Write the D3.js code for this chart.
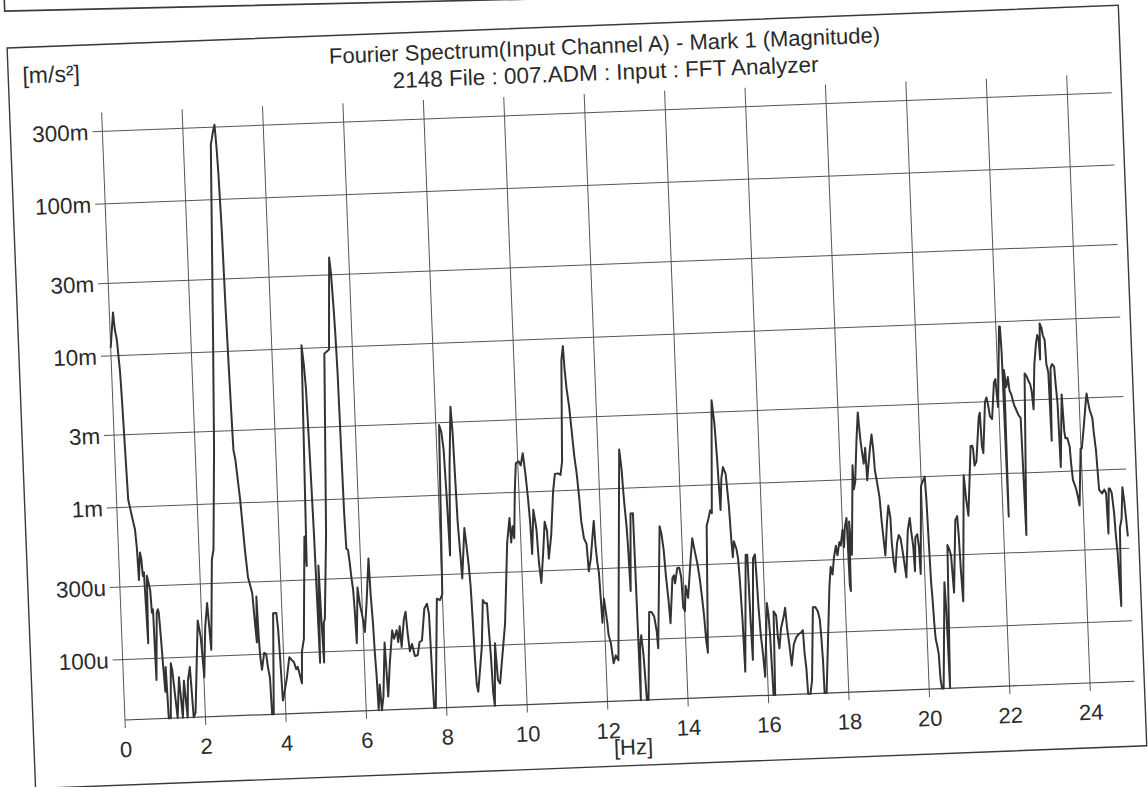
<!DOCTYPE html>
<html>
<head>
<meta charset="utf-8">
<script src="https://cdn.jsdelivr.net/npm/d3@7"></script>
<style>
body { margin: 0; background: #fff; }
svg text { font-family: "Liberation Sans", Arial, sans-serif; fill: #2a2a2a; }
</style>
</head>
<body>
<script>
// spectrum, [Hz] and [m/s2]
var freqHz = [
 0.00,0.09,0.12,0.16,0.18,0.21,0.23,0.25,0.27,0.29,0.37,0.43,0.46,0.48,0.53,0.56,0.58,0.61,0.63,0.65,
 0.68,0.71,0.75,0.77,0.80,0.82,0.89,0.92,0.94,0.97,1.00,1.03,1.06,1.09,1.14,1.19,1.22,1.31,1.38,1.44,
 1.50,1.56,1.60,1.66,1.71,1.76,1.81,1.90,1.96,2.01,2.08,2.15,2.21,2.31,2.36,2.47,2.55,2.68,2.75,2.79,
 2.82,2.84,2.87,2.89,2.91,2.93,2.95,2.99,3.07,3.14,3.19,3.28,3.32,3.35,3.38,3.40,3.42,3.45,3.48,3.52,
 3.57,3.60,3.64,3.66,3.70,3.78,3.86,3.89,3.91,3.94,3.96,4.06,4.14,4.20,4.25,4.30,4.34,4.43,4.46,4.52,
 4.63,4.66,4.74,4.78,4.81,4.84,4.87,4.90,4.95,4.97,5.00,5.03,5.06,5.17,5.30,5.42,5.51,5.54,5.57,5.59,
 5.61,5.62,5.63,5.64,5.66,5.70,5.73,5.76,5.79,5.81,5.83,5.90,5.94,6.01,6.04,6.11,6.20,6.22,6.25,6.27,
 6.29,6.31,6.36,6.39,6.44,6.52,6.56,6.63,6.72,6.76,6.83,6.86,6.91,6.94,7.02,7.07,7.10,7.14,7.20,7.26,
 7.33,7.39,7.45,7.54,7.61,7.65,7.67,7.69,7.73,7.86,7.94,8.00,8.08,8.13,8.17,8.20,8.23,8.30,8.38,8.41,
 8.43,8.45,8.49,8.51,8.61,8.64,8.68,8.71,8.73,8.75,8.77,8.80,8.93,9.00,9.05,9.10,9.12,9.15,9.17,9.20,
 9.26,9.30,9.35,9.53,9.57,9.66,9.74,9.76,9.81,9.84,9.90,9.95,10.02,10.07,10.13,10.18,10.22,10.25,10.27,10.34,
 10.38,10.40,10.43,10.47,10.55,10.61,10.66,10.68,10.76,10.85,10.91,10.99,11.05,11.10,11.18,11.23,11.25,11.28,11.33,11.37,
 11.41,11.45,11.49,11.52,11.57,11.63,11.66,11.72,11.78,11.83,11.85,11.88,11.91,11.95,12.01,12.04,12.07,12.09,12.14,12.19,
 12.25,12.31,12.53,12.57,12.59,12.61,12.64,12.66,12.68,12.75,12.81,12.83,12.86,12.90,12.94,12.98,13.02,13.12,13.18,13.24,
 13.29,13.31,13.46,13.50,13.54,13.57,13.61,13.64,13.73,13.77,13.79,13.86,13.91,13.95,13.97,14.01,14.05,14.10,14.20,14.26,
 14.31,14.36,14.41,14.45,14.48,14.51,14.54,14.63,14.68,14.73,14.77,14.87,14.92,14.95,14.97,14.99,15.04,15.09,15.15,15.17,
 15.20,15.23,15.25,15.29,15.35,15.38,15.40,15.43,15.45,15.57,15.61,15.63,15.65,15.75,15.80,15.82,15.84,15.87,15.91,15.94,
 16.05,16.08,16.10,16.13,16.17,16.21,16.27,16.29,16.32,16.38,16.46,16.50,16.53,16.57,16.61,16.68,16.75,16.81,16.88,16.92,
 16.94,16.97,16.99,17.05,17.10,17.19,17.25,17.31,17.35,17.37,17.39,17.40,17.45,17.62,17.67,17.71,17.76,17.82,17.85,17.91,
 17.94,18.00,18.02,18.06,18.11,18.13,18.15,18.17,18.19,18.21,18.31,18.32,18.36,18.43,18.49,18.51,18.53,18.57,18.59,18.64,
 18.66,18.71,18.76,18.81,18.84,18.86,18.89,18.95,18.98,19.01,19.04,19.11,19.16,19.20,19.21,19.24,19.27,19.34,19.39,19.43,
 19.46,19.50,19.54,19.62,19.68,19.70,19.74,19.76,19.80,19.85,19.88,19.90,19.99,20.05,20.09,20.11,20.13,20.15,20.17,20.19,
 20.21,20.24,20.27,20.29,20.32,20.36,20.48,20.50,20.52,20.59,20.63,20.67,20.71,20.81,20.86,20.88,20.90,20.93,21.06,21.10,
 21.14,21.26,21.30,21.32,21.34,21.39,21.49,21.52,21.54,21.57,21.66,21.70,21.73,21.77,21.82,21.90,21.94,21.96,21.98,22.08,
 22.10,22.12,22.14,22.16,22.18,22.20,22.23,22.25,22.28,22.32,22.38,22.43,22.48,22.53,22.56,22.67,22.72,22.76,22.80,22.83,
 22.86,22.92,22.98,23.02,23.05,23.07,23.09,23.13,23.16,23.20,23.22,23.26,23.28,23.32,23.36,23.41,23.43,23.46,23.48,23.57,
 23.60,23.62,23.67,23.72,23.74,23.77,23.81,23.84,23.88,23.91,23.99,24.02,24.09,24.16,24.19,24.22,24.25,24.31,24.33,24.37,
 24.39,24.41,24.48,24.54,24.58,24.60,24.65,24.68,24.72,24.76,24.78,24.81,24.83,24.85,24.89,24.94,24.99,25.02,25.05,25.08
];
var magnitude = [
 0.0113,0.0192,0.0148,0.0127,0.0104,0.0077,0.0051,0.0031,0.00186,0.00112,0.00086,0.00071,0.00053,0.00033,0.0005,0.00045,0.00035,0.00037,0.00022,0.000126,
 0.00035,0.00032,0.00028,0.0002,0.00021,0.000072,0.0002,0.00021,0.0002,0.000138,0.000087,0.00006,0.000087,0.00004,0.00004,0.000092,0.000083,0.00004,0.000074,0.00004,
 0.00007,0.00004,0.00007,0.000086,0.00004,0.000043,0.000071,0.000173,0.000134,0.000073,0.000155,0.000224,0.00011,0.00043,0.0005,0.0023,0.012,0.23,0.285,0.311,
 0.216,0.15,0.063,0.02,0.009,0.0043,0.00224,0.00192,0.00105,0.00049,0.000325,0.000254,0.00016,0.00012,0.00024,0.00013,0.000096,0.000079,0.000088,0.000102,
 0.0001,0.000082,0.00007,0.00004,0.00004,0.000185,0.000185,0.000142,0.000096,0.000049,0.000051,0.000069,0.000094,0.00009,0.000087,0.000078,0.000081,0.000063,0.000102,0.000123,
 0.00058,0.00037,0.0105,0.0078,0.0054,0.002,0.0006,0.000085,0.00037,0.000174,0.000085,0.000155,0.000165,0.00059,0.0091,0.0097,0.039,0.031,0.019,0.0126,
 0.0068,0.0032,0.00155,0.0008,0.00047,0.00046,0.00038,0.0003,0.00025,0.000183,0.000112,0.00026,0.000204,0.000158,0.000132,0.000204,0.0004,0.00023,0.000151,0.000093,
 0.000069,0.00004,0.000059,0.00004,0.000049,0.000111,0.000049,0.000081,0.000133,0.000117,0.000133,0.000111,0.000141,0.000103,0.000156,0.000175,0.000128,0.000096,0.000107,0.000089,
 0.00009,0.00011,0.000112,0.000182,0.000195,0.000166,0.000074,0.00004,0.00004,0.000209,0.000205,0.000224,0.0029,0.0026,0.002,0.001,0.0004,0.0015,0.0038,0.0025,
 0.00126,0.00066,0.00038,0.00028,0.0006,0.00048,0.00035,0.00025,0.000151,0.000082,0.000056,0.00005,0.000098,0.0002,0.00019,0.00019,0.000131,0.000081,0.000049,0.00004,
 0.000103,0.000059,0.000056,0.000138,0.0002,0.00047,0.00068,0.00047,0.0006,0.0005,0.00104,0.00155,0.0016,0.0015,0.0018,0.0013,0.0009,0.00063,0.00039,0.00076,
 0.00063,0.00056,0.00034,0.00025,0.00041,0.00063,0.00055,0.00036,0.00051,0.001,0.00129,0.0013,0.00127,0.00155,0.0072,0.0089,0.0063,0.0047,0.0035,0.0024,
 0.00166,0.0013,0.0009,0.00062,0.00048,0.00044,0.00029,0.00035,0.00048,0.00062,0.00043,0.00033,0.00028,0.000132,0.00019,0.000159,0.000132,0.00011,0.000096,0.000071,
 0.00008,0.000074,0.0018,0.00134,0.00097,0.00076,0.00056,0.00039,0.00021,0.00068,0.00068,0.00004,0.000089,0.000107,0.000078,0.00004,0.00004,0.000151,0.000151,0.000141,
 0.000112,0.000087,0.00055,0.00049,0.00038,0.00026,0.000182,0.000126,0.00025,0.00026,0.00023,0.00029,0.00029,0.00025,0.000159,0.00015,0.00022,0.000183,0.00033,0.00045,
 0.00037,0.00031,0.00024,0.000178,0.000138,0.000095,0.000079,0.00054,0.0006,0.00068,0.00065,0.0036,0.0025,0.00155,0.001,0.00068,0.0011,0.0013,0.00117,0.00097,
 0.00072,0.00042,0.00033,0.00042,0.00037,0.00032,0.00024,0.000128,0.000058,0.00034,0.00034,0.000126,0.000069,0.00032,0.00034,0.00024,0.000152,0.0001,0.000073,0.000053,
 0.000162,0.000135,0.0001,0.00004,0.00004,0.000142,0.000133,0.000098,0.000081,0.00011,0.000132,0.000149,0.000109,0.000085,0.000062,0.000085,0.000095,0.000099,0.000102,0.000105,
 0.000074,0.000059,0.00004,0.00004,0.000049,0.000148,0.000148,0.000138,0.000122,0.000095,0.000066,0.00004,0.00004,0.0002,0.00027,0.00024,0.00031,0.00037,0.00032,0.00039,
 0.00037,0.00047,0.00036,0.00049,0.00056,0.0002,0.000185,0.00053,0.00041,0.00032,0.00124,0.00086,0.00096,0.00178,0.00275,0.0022,0.0018,0.0014,0.00126,0.0016,
 0.00098,0.00126,0.0016,0.00195,0.00154,0.00113,0.001,0.00075,0.00052,0.0004,0.00031,0.00051,0.00066,0.00055,0.00038,0.00028,0.00024,0.00037,0.00042,0.0004,
 0.00035,0.00028,0.00022,0.00045,0.00054,0.00045,0.00035,0.00024,0.0004,0.00042,0.00035,0.00023,0.00087,0.00095,0.001,0.00073,0.00037,0.0002,0.000155,0.000107,
 0.000085,0.000077,0.000068,0.000047,0.00004,0.00004,0.0002,0.000132,0.00004,0.00035,0.00033,0.0003,0.00017,0.00051,0.00054,0.0004,0.00024,0.000148,0.001,0.00069,
 0.00054,0.00155,0.00155,0.00147,0.00115,0.00122,0.0024,0.00255,0.00155,0.00138,0.003,0.0032,0.0029,0.0024,0.0023,0.004,0.0042,0.0033,0.00275,0.0093,
 0.0093,0.0063,0.00052,0.0048,0.0042,0.0037,0.004,0.0043,0.0035,0.0033,0.0028,0.0026,0.0024,0.0023,0.00039,0.0045,0.0043,0.004,0.0038,0.0034,
 0.0026,0.0051,0.007,0.008,0.0075,0.0055,0.0095,0.0089,0.0079,0.0074,0.0051,0.0045,0.0016,0.0048,0.0051,0.0049,0.0038,0.0028,0.00107,0.0032,
 0.00185,0.00165,0.00165,0.00145,0.00112,0.00087,0.00081,0.00076,0.00067,0.00059,0.0014,0.0014,0.00195,0.0028,0.0032,0.0028,0.0025,0.0022,0.0018,0.00134,
 0.001,0.00074,0.0007,0.00074,0.0007,0.00038,0.00075,0.00075,0.0007,0.00052,0.00038,0.00028,0.000182,0.000126,0.00041,0.00047,0.00076,0.00063,0.00048,0.00036
];

var yTickValues = [0.3, 0.1, 0.03, 0.01, 0.003, 0.001, 0.0003, 0.0001];
var yTickLabels = ["300m", "100m", "30m", "10m", "3m", "1m", "300u", "100u"];
var xTickValues = [0, 2, 4, 6, 8, 10, 12, 14, 16, 18, 20, 22, 24];

var titleLines = ["Fourier Spectrum(Input Channel A) - Mark 1 (Magnitude)",
                  "2148 File : 007.ADM : Input : FFT Analyzer"];

var svgWidth = 1148, svgHeight = 787;
var width = 1010, height = 608;
// the scanned sheet sits a little crooked
var tilt = -2.2;

var svg = d3.select("body").append("svg")
  .attr("width", svgWidth)
  .attr("height", svgHeight);

var chart = svg.append("g")
  .attr("transform", "translate(125,720) rotate(" + tilt + ")");

var x = d3.scaleLinear().domain([0, 25.1]).range([0, width]);
var y = d3.scaleLog().domain([4e-5, 0.4]).range([0, -height]).clamp(true);

// outer frame + bit of the box above it
chart.append("rect")
  .attr("x", -92).attr("y", -676)
  .attr("width", 1112).attr("height", 741)
  .attr("fill", "none").attr("stroke", "#3a3a3a").attr("stroke-width", 1.4);
chart.append("path")
  .attr("d", "M-93,-760L-93,-713L360,-706L600,-702")
  .attr("fill", "none").attr("stroke", "#3a3a3a").attr("stroke-width", 1.6);

// horizontal grid with ticks on the left
chart.append("g").selectAll("line")
  .data(yTickValues)
  .enter().append("line")
  .attr("x1", -10).attr("x2", width)
  .attr("y1", function(d) { return y(d); })
  .attr("y2", function(d) { return y(d); })
  .attr("stroke", "#555").attr("stroke-width", 1);

// vertical grid, ticks poke below the axis
chart.append("g").selectAll("line")
  .data(xTickValues)
  .enter().append("line")
  .attr("x1", function(d) { return x(d); })
  .attr("x2", function(d) { return x(d); })
  .attr("y1", -height).attr("y2", 8)
  .attr("stroke", "#555").attr("stroke-width", 1);

// bottom axis line
chart.append("line")
  .attr("x1", 0).attr("x2", width)
  .attr("y1", 0).attr("y2", 0)
  .attr("stroke", "#444").attr("stroke-width", 1.2);

chart.append("g").selectAll("text")
  .data(yTickValues)
  .enter().append("text")
  .attr("x", -14)
  .attr("y", function(d) { return y(d); })
  .attr("dy", "0.36em")
  .attr("text-anchor", "end")
  .attr("font-size", "22.5px")
  .text(function(d, i) { return yTickLabels[i]; });

chart.append("g").selectAll("text")
  .data(xTickValues)
  .enter().append("text")
  .attr("x", function(d) { return x(d); })
  .attr("y", 37)
  .attr("text-anchor", "middle")
  .attr("font-size", "22px")
  .text(function(d) { return d; });

chart.append("text")
  .attr("x", 507).attr("y", 54)
  .attr("text-anchor", "middle")
  .attr("font-size", "22px")
  .text("[Hz]");

chart.append("text")
  .attr("x", -49).attr("y", -640)
  .attr("text-anchor", "middle")
  .attr("font-size", "23px")
  .text("[m/s²]");

chart.append("g").selectAll("text")
  .data(titleLines)
  .enter().append("text")
  .attr("x", width / 2)
  .attr("y", function(d, i) { return -648 + i * 27; })
  .attr("text-anchor", "middle")
  .attr("font-size", function(d, i) { return i ? "22.5px" : "22px"; })
  .text(function(d) { return d; });

// the trace
var points = freqHz.map(function(f, i) { return [f, magnitude[i]]; });
var line = d3.line()
  .x(function(d) { return x(d[0]); })
  .y(function(d) { return y(d[1]); });

chart.append("path")
  .datum(points)
  .attr("d", line)
  .attr("fill", "none")
  .attr("stroke", "#333")
  .attr("stroke-width", 2)
  .attr("stroke-linejoin", "round");
</script>
</body>
</html>
